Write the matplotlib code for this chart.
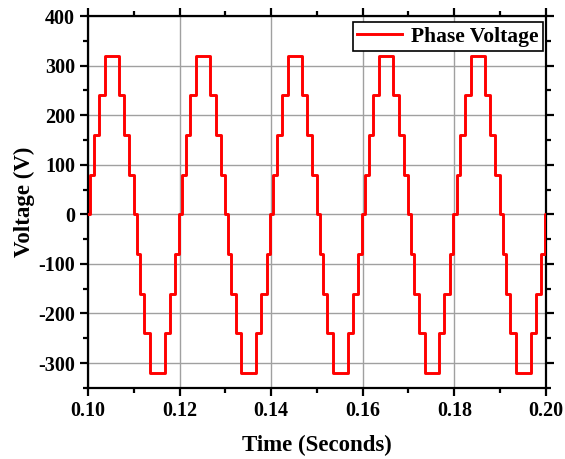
import numpy as np
import matplotlib
matplotlib.use('Agg')
import matplotlib.pyplot as plt

plt.rcParams['font.family'] = ['Liberation Serif', 'DejaVu Serif']
plt.rcParams['font.weight'] = 'bold'
plt.rcParams['axes.unicode_minus'] = False

# switching instants within one 20 ms cycle (s) and the level held after each
cycle_times = [0.0, 0.0005, 0.0013, 0.0023, 0.0036, 0.0067, 0.0079, 0.0090, 0.0100,
               0.0106, 0.0113, 0.0122, 0.0135, 0.0167, 0.0178, 0.0190, 0.0198]
cycle_levels = [0, 80, 160, 240, 320, 240, 160, 80, 0,
                -80, -160, -240, -320, -240, -160, -80, 0]
cycle_starts = [0.10, 0.12, 0.14, 0.16, 0.18]
t_end = 0.20

# build the staircase from the repeated cycle
t = []
v = []
for t0 in cycle_starts:
    for dt, lvl in zip(cycle_times, cycle_levels):
        t.append(t0 + dt)
        v.append(lvl)
t.append(t_end)
v.append(0)

fig = plt.figure(figsize=(5.65, 4.59), dpi=100)
ax = fig.add_axes([0.156, 0.155, 0.81, 0.81])

ax.step(t, v, where='post', color='red', linewidth=2.1, label='Phase Voltage', zorder=3)

ax.set_xlim(0.10, 0.20)
ax.set_ylim(-350, 400)
ax.set_xticks(np.arange(0.10, 0.201, 0.02))
ax.set_xticks(np.arange(0.11, 0.20, 0.02), minor=True)
ax.set_yticks(np.arange(-300, 401, 100))
ax.set_yticks(np.arange(-350, 400, 50), minor=True)
ax.set_xticklabels(['0.10', '0.12', '0.14', '0.16', '0.18', '0.20'])

ax.grid(True, which='major', color='#a0a0a0', linewidth=1.0)
ax.set_axisbelow(True)

for s in ax.spines.values():
    s.set_linewidth(1.6)
ax.tick_params(which='both', direction='out', top=True, right=True, width=1.6,
               labelsize=14.5)
ax.tick_params(which='major', length=6)
ax.tick_params(which='minor', length=3.5)
for lab in ax.get_xticklabels() + ax.get_yticklabels():
    lab.set_fontweight('bold')

ax.set_xlabel('Time (Seconds)', fontsize=16.5, fontweight='bold', labelpad=10)
ax.set_ylabel('Voltage (V)', fontsize=16.5, fontweight='bold', labelpad=2)

leg = ax.legend(loc='upper right', bbox_to_anchor=(0.993, 0.983),
                prop={'weight': 'bold', 'size': 15.5},
                fancybox=False, framealpha=1, edgecolor='black',
                handlelength=2.1, borderpad=0.2, handletextpad=0.4,
                borderaxespad=0)
leg.get_frame().set_linewidth(1.2)

fig.savefig('out.png', dpi=100)
